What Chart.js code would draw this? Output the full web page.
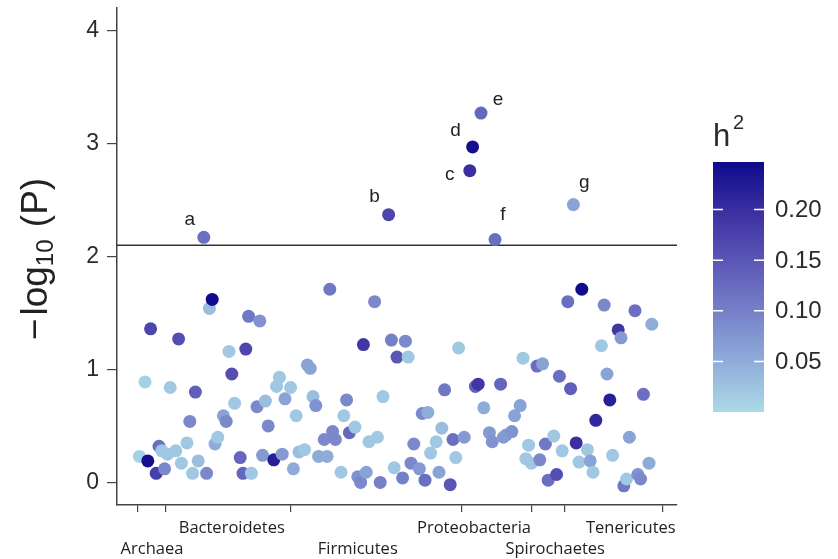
<!DOCTYPE html>
<html>
<head>
<meta charset="utf-8">
<script src="https://cdn.jsdelivr.net/npm/chart.js@4.4.1/dist/chart.umd.min.js"></script>
<style>
  html, body { margin: 0; padding: 0; background: #fff; }
  #wrap { width: 838px; height: 559px; }
</style>
</head>
<body>
<div id="wrap"><canvas id="chartOtu" width="838" height="559"></canvas></div>
<script>
// OTU position, -log10(P) and heritability of each OTU
var otuIndex = [8, 10, 11, 12, 14, 15, 16, 17, 18, 19, 21, 22, 23, 25, 26, 27, 28, 29, 32, 33,
    34, 35, 36, 38, 39, 40, 41, 42, 44, 45, 46, 47, 48, 50, 51, 52, 53, 54, 56, 57,
    58, 59, 60, 62, 63, 64, 65, 67, 68, 69, 70, 71, 72, 74, 75, 76, 77, 78, 80, 81,
    82, 83, 85, 86, 87, 88, 89, 90, 92, 93, 94, 95, 98, 99, 100, 102, 103, 104, 105, 106,
    108, 109, 110, 111, 112, 114, 115, 116, 117, 119, 120, 121, 122, 124, 128, 129, 131, 133, 134, 137,
    138, 139, 141, 142, 144, 145, 146, 147, 148, 150, 151, 152, 153, 154, 156, 157, 158, 159, 161, 162,
    164, 165, 166, 168, 169, 170, 171, 173, 174, 175, 176, 177, 179, 180, 181, 182, 183, 185, 186, 187,
    188, 190, 191];
var logP = [0.23, 0.89, 0.19, 1.36, 0.08, 0.32, 0.28, 0.12, 0.25, 0.84, 0.28, 1.27, 0.17, 0.35, 0.54, 0.08, 0.80, 0.19, 0.08, 1.54,
    1.62, 0.34, 0.40, 0.59, 0.54, 1.16, 0.96, 0.70, 0.22, 0.08, 1.18, 1.47, 0.08, 0.67, 1.43, 0.24, 0.72, 0.50, 0.20, 0.85,
    0.93, 0.25, 0.74, 0.84, 0.12, 0.59, 0.27, 0.29, 1.04, 1.01, 0.76, 0.68, 0.23, 0.38, 0.23, 1.71, 0.45, 0.38, 0.09, 0.59,
    0.73, 0.44, 0.49, 0.05, 0.00, 1.22, 0.09, 0.36, 1.60, 0.40, 0.00, 0.76, 1.26, 0.13, 1.11, 0.04, 1.25, 1.11, 0.17, 0.34,
    0.12, 0.61, 0.02, 0.62, 0.26, 0.36, 0.09, 0.48, 0.82, -0.02, 0.38, 0.22, 1.19, 0.40, 0.85, 0.87, 0.66, 0.44, 0.36, 0.87,
    0.40, 0.42, 0.45, 0.59, 0.68, 1.10, 0.21, 0.33, 0.17, 1.03, 0.20, 1.05, 0.34, 0.02, 0.41, 0.07, 0.94, 0.28, 1.60, 0.83,
    0.35, 0.18, 1.71, 0.29, 0.19, 0.09, 0.55, 1.21, 1.57, 0.96, 0.73, 0.24, 1.35, 1.28, -0.03, 0.03, 0.40, 1.52, 0.07, 0.03,
    0.78, 0.17, 1.40];
var h2 = [0.01, 0.01, 0.24, 0.17, 0.18, 0.12, 0.02, 0.09, 0.02, 0.02, 0.02, 0.16, 0.02, 0.02, 0.09, 0.02, 0.14, 0.03, 0.09, 0.03,
    0.245, 0.05, 0.02, 0.06, 0.09, 0.02, 0.16, 0.02, 0.13, 0.13, 0.17, 0.11, 0.02, 0.09, 0.08, 0.07, 0.03, 0.09, 0.22, 0.02,
    0.02, 0.07, 0.06, 0.02, 0.05, 0.02, 0.03, 0.02, 0.06, 0.06, 0.03, 0.08, 0.05, 0.09, 0.05, 0.11, 0.09, 0.09, 0.02, 0.02,
    0.09, 0.13, 0.02, 0.08, 0.09, 0.19, 0.06, 0.02, 0.09, 0.02, 0.10, 0.02, 0.10, 0.02, 0.15, 0.10, 0.09, 0.02, 0.09, 0.09,
    0.07, 0.09, 0.12, 0.05, 0.02, 0.02, 0.06, 0.03, 0.11, 0.15, 0.12, 0.02, 0.02, 0.07, 0.14, 0.19, 0.05, 0.07, 0.08, 0.13,
    0.07, 0.07, 0.08, 0.06, 0.06, 0.02, 0.02, 0.02, 0.02, 0.12, 0.09, 0.06, 0.11, 0.12, 0.02, 0.16, 0.12, 0.02, 0.12, 0.14,
    0.20, 0.02, 0.245, 0.02, 0.06, 0.02, 0.21, 0.02, 0.09, 0.06, 0.22, 0.02, 0.19, 0.07, 0.11, 0.02, 0.06, 0.12, 0.08, 0.09,
    0.12, 0.05, 0.05];

// OTUs above the significance line, with their letters
var hitIndex = [31, 97, 126, 127, 130, 135, 163];
var hitLogP = [2.17, 2.37, 2.76, 2.97, 3.27, 2.15, 2.46];
var hitH2 = [0.12, 0.17, 0.20, 0.24, 0.13, 0.12, 0.06];
var hitLetters = ['a', 'b', 'c', 'd', 'e', 'f', 'g'];

var threshold = 2.1;

// phylum tick marks and names along the x axis
var phylumTicks = [7.5, 17.5, 62, 123, 148, 160, 195];
var phylumNames = ['Archaea', 'Bacteroidetes', 'Firmicutes', 'Proteobacteria', 'Spirochaetes', 'Tenericutes'];
var phylumCenters = [12.5, 41, 86, 127.5, 156.5, 183.5];
var phylumRow = [1, 0, 1, 0, 1, 0];

var yTicks = [0, 1, 2, 3, 4];
var h2Ticks = [0.05, 0.10, 0.15, 0.20];
var h2Max = 0.247;

// light blue -> dark blue scale for h2
var colorStops = [
    [0.00, [172, 218, 232]],
    [0.05, [143, 172, 217]],
    [0.10, [118, 128, 200]],
    [0.15, [90, 86, 182]],
    [0.20, [58, 46, 160]],
    [0.247, [14, 10, 140]]
];

function h2Color(v) {
    if (v <= colorStops[0][0]) return rgb(colorStops[0][1]);
    for (var i = 1; i < colorStops.length; i++) {
        if (v <= colorStops[i][0]) {
            var a = colorStops[i - 1], b = colorStops[i];
            var t = (v - a[0]) / (b[0] - a[0]);
            return rgb([0, 1, 2].map(function (k) { return Math.round(a[1][k] + t * (b[1][k] - a[1][k])); }));
        }
    }
    return rgb(colorStops[colorStops.length - 1][1]);
}
function rgb(c) { return 'rgb(' + c[0] + ',' + c[1] + ',' + c[2] + ')'; }

// where each letter sits relative to its point
var letterOffsets = [[-14, -18], [-14, -18], [-20, 4], [-17, -16], [17, -13], [8, -25], [11, -22]];

var decor = {
    id: 'decor',
    afterDraw: function (chart) {
        var ctx = chart.ctx;
        ctx.save();
        ctx.fillStyle = '#222';

        // letters over the significant OTUs
        var meta = chart.getDatasetMeta(1);
        ctx.font = '19px "Liberation Sans", Arial, sans-serif';
        ctx.textAlign = 'center';
        ctx.textBaseline = 'middle';
        meta.data.forEach(function (el, i) {
            ctx.fillText(hitLetters[i], el.x + letterOffsets[i][0], el.y + letterOffsets[i][1]);
        });

        // y axis title: -log10 (P), reading upwards
        var big = '37px "Liberation Sans", Arial, sans-serif';
        var small = '24px "Liberation Sans", Arial, sans-serif';
        // text, font, baseline shift, extra gap after
        var parts = [['\u2212', big, 0, 3], ['log', big, 0, 0], ['10', small, 6, 2], [' (P)', big, 0, 0]];
        var total = 0;
        parts.forEach(function (p) { ctx.font = p[1]; total += ctx.measureText(p[0]).width + p[3]; });
        ctx.translate(47, 259);
        ctx.rotate(-Math.PI / 2);
        ctx.textAlign = 'left';
        ctx.textBaseline = 'alphabetic';
        var x = -total / 2;
        parts.forEach(function (p) {
            ctx.font = p[1];
            ctx.fillText(p[0], x, p[2]);
            x += ctx.measureText(p[0]).width + p[3];
        });
        ctx.restore();

        // colour bar for h2
        ctx.save();
        var bx = 713, by = 162, bw = 51, bh = 250;
        var grad = ctx.createLinearGradient(0, by + bh, 0, by);
        colorStops.forEach(function (s) { grad.addColorStop(Math.min(s[0] / h2Max, 1), h2Color(s[0])); });
        ctx.fillStyle = grad;
        ctx.fillRect(bx, by, bw, bh);
        ctx.strokeStyle = '#fff';
        ctx.lineWidth = 1.5;
        ctx.fillStyle = '#2b2b2b';
        ctx.font = '24px "Liberation Sans", Arial, sans-serif';
        ctx.textAlign = 'left';
        ctx.textBaseline = 'middle';
        h2Ticks.forEach(function (v) {
            var ty = by + bh * (1 - v / h2Max);
            ctx.beginPath();
            ctx.moveTo(bx, ty); ctx.lineTo(bx + 10, ty);
            ctx.moveTo(bx + bw - 10, ty); ctx.lineTo(bx + bw, ty);
            ctx.stroke();
            ctx.fillText(v.toFixed(2), bx + bw + 11, ty + 1);
        });
        ctx.textBaseline = 'alphabetic';
        ctx.font = '31px "Liberation Sans", Arial, sans-serif';
        ctx.fillText('h', bx, 146);
        ctx.font = '20px "Liberation Sans", Arial, sans-serif';
        ctx.fillText('2', bx + 20, 129);
        ctx.restore();
    }
};

function noPad(s) { s.paddingTop = 0; s.paddingBottom = 0; s.paddingLeft = 0; s.paddingRight = 0; }

var ctx = document.getElementById('chartOtu').getContext('2d');
var chartOtu = new Chart(ctx, {
    type: 'scatter',
    data: {
        datasets: [{
            label: 'OTU',
            data: otuIndex.map(function (x, i) { return { x: x, y: logP[i] }; }),
            backgroundColor: function (c) { return h2Color(h2[c.dataIndex]); },
            borderWidth: 0,
            pointRadius: 6.5,
            order: 1
        }, {
            label: 'significant',
            data: hitIndex.map(function (x, i) { return { x: x, y: hitLogP[i] }; }),
            backgroundColor: function (c) { return h2Color(hitH2[c.dataIndex]); },
            borderWidth: 0,
            pointRadius: 6.5,
            order: 0
        }, {
            type: 'line',
            label: 'threshold',
            data: [{ x: 0, y: threshold }, { x: 200, y: threshold }],
            borderColor: '#333',
            borderWidth: 1.5,
            pointRadius: 0,
            order: 2
        }]
    },
    options: {
        responsive: false,
        animation: false,
        events: [],
        layout: { padding: { top: 8, right: 161, left: 0, bottom: 0 } },
        plugins: { legend: { display: false }, tooltip: { enabled: false } },
        scales: {
            x: {
                type: 'linear', position: 'bottom', weight: 0, min: 0, max: 200,
                afterBuildTicks: function (s) { s.ticks = phylumTicks.map(function (v) { return { value: v }; }); },
                ticks: { display: false },
                grid: { drawOnChartArea: false, tickLength: 7, color: '#444', lineWidth: 1.2 },
                border: { color: '#444', width: 1.5 },
                afterFit: function (s) { s.height = 1; noPad(s); }
            },
            xLab: {
                type: 'linear', axis: 'x', position: 'bottom', weight: 1, min: 0, max: 200,
                afterBuildTicks: function (s) { s.ticks = phylumCenters.map(function (v) { return { value: v }; }); },
                ticks: {
                    autoSkip: false, maxRotation: 0, padding: 4, color: '#222',
                    font: { family: '"Open Sans", sans-serif', size: 16.5, lineHeight: 1.25 },
                    callback: function (v, i) { return phylumRow[i] === 0 ? [phylumNames[i]] : ['', phylumNames[i]]; }
                },
                grid: { display: false },
                border: { display: false },
                afterFit: function (s) { s.height = 53; noPad(s); }
            },
            y: {
                type: 'linear', min: -0.2, max: 4.2,
                afterBuildTicks: function (s) { s.ticks = yTicks.map(function (v) { return { value: v }; }); },
                ticks: { padding: 8, color: '#2b2b2b', font: { family: '"Liberation Sans", Arial, sans-serif', size: 23 } },
                grid: { drawOnChartArea: false, tickLength: 10, color: '#444', lineWidth: 1.2 },
                border: { color: '#444', width: 1.5 },
                afterFit: function (s) { s.width = 117; noPad(s); }
            }
        }
    },
    plugins: [decor]
});
</script>
</body>
</html>
